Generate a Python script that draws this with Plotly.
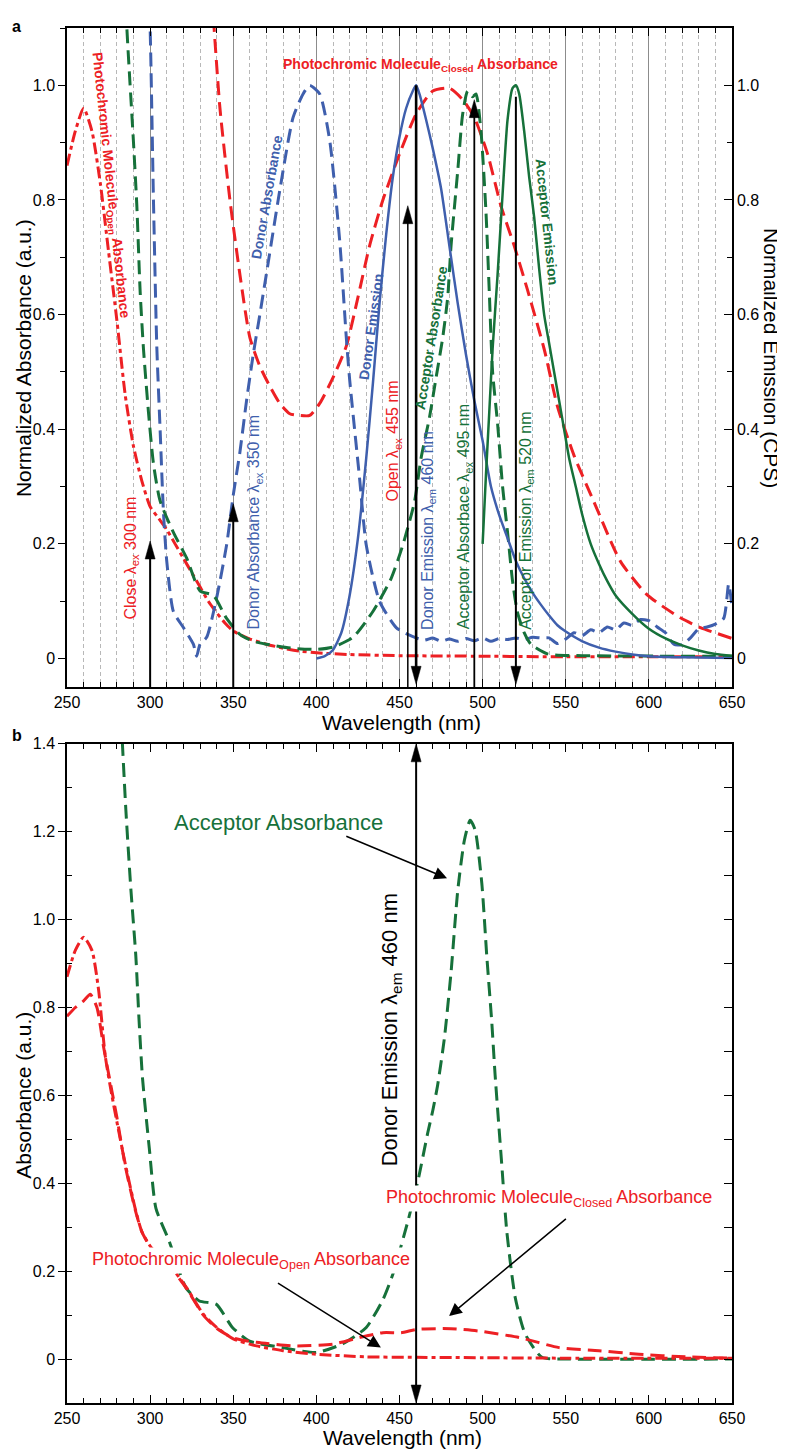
import plotly.graph_objects as go

# ---------------- Panel a data (normalized) ----------------
open_a_wl = [250, 255, 260, 265, 270, 275, 280, 285, 290, 295, 300, 305, 310, 315, 320, 325, 330, 335,
             340, 345, 350, 360, 370, 380, 390, 400, 420, 450, 500, 550, 600, 650]
open_a = [0.86, 0.92, 0.96, 0.92, 0.83, 0.71, 0.59, 0.46, 0.37, 0.31, 0.265, 0.245, 0.225, 0.20, 0.175,
          0.15, 0.125, 0.10, 0.08, 0.062, 0.048, 0.034, 0.025, 0.018, 0.013, 0.010, 0.007, 0.005, 0.004,
          0.003, 0.003, 0.003]

closed_a_wl = [334, 338, 342, 348, 354, 360, 366, 372, 378, 384, 390, 396, 402, 410, 418, 425, 432, 440,
               450, 460, 470, 480, 488, 495, 503, 511, 519, 527, 537, 545, 555, 567, 583, 599, 619, 631, 650]
closed_a = [1.3, 1.12, 0.96, 0.80, 0.67, 0.56, 0.51, 0.475, 0.445, 0.427, 0.424, 0.424, 0.445, 0.49, 0.545,
            0.63, 0.72, 0.80, 0.88, 0.95, 0.99, 0.995, 0.975, 0.944, 0.88, 0.79, 0.72, 0.643, 0.54, 0.44,
            0.354, 0.273, 0.169, 0.111, 0.071, 0.054, 0.035]

donor_abs_wl = [297, 300, 302, 304, 306, 308, 310, 314, 320, 326, 328, 330, 334, 340, 346, 350, 354, 358,
                362, 366, 370, 378, 386, 392, 396, 402, 408, 414, 418, 420, 426, 430, 438, 448, 455,
                460, 465, 470, 475, 480, 485, 490, 495, 500, 505, 510, 515, 520, 525, 530, 535, 540, 545,
                550, 555, 560, 565, 570, 575, 580, 585, 590, 595, 600, 605, 610, 615, 620, 625, 630, 635,
                640, 645, 648, 650]
donor_abs = [1.35, 1.1, 0.8, 0.545, 0.40, 0.256, 0.17, 0.082, 0.054, 0.025, 0.004, 0.025, 0.037, 0.106,
             0.198, 0.285, 0.36, 0.45, 0.53, 0.60, 0.672, 0.817, 0.944, 0.985, 1.0, 0.985, 0.904, 0.73,
             0.56, 0.487, 0.314, 0.198, 0.10, 0.054, 0.042,
             0.036, 0.032, 0.036, 0.030, 0.034, 0.030, 0.035, 0.031, 0.036, 0.030, 0.035, 0.033, 0.036,
             0.033, 0.037, 0.036, 0.036, 0.026, 0.034, 0.045, 0.040, 0.050, 0.045, 0.055, 0.050, 0.062,
             0.058, 0.068, 0.066, 0.055, 0.045, 0.025, 0.024, 0.036, 0.052, 0.055, 0.060, 0.070, 0.13, 0.09]

donor_em_wl = [400, 405, 410, 415, 420, 425, 430, 434, 438, 442, 446, 450, 454, 458, 460, 462, 466, 470,
               475, 480, 485, 490, 495, 500, 505, 510, 515, 520, 525, 530, 535, 540, 545, 550, 560, 570,
               580, 590, 600, 620, 650]
donor_em = [0.0, 0.004, 0.015, 0.045, 0.11, 0.21, 0.35, 0.48, 0.62, 0.74, 0.84, 0.91, 0.96, 0.99, 1.0,
            0.985, 0.94, 0.89, 0.82, 0.72, 0.62, 0.53, 0.45, 0.38, 0.30, 0.25, 0.21, 0.17, 0.14, 0.115,
            0.094, 0.075, 0.058, 0.047, 0.030, 0.019, 0.012, 0.007, 0.004, 0.002, 0.001]

acc_abs_wl = [280, 286, 290, 292, 294, 296, 299, 302, 306, 314, 322, 330, 338, 346, 354, 362, 370, 385,
              400, 410, 422, 434, 445, 452, 459, 463, 468, 472, 476, 479, 481, 485, 488, 491, 494, 496,
              499, 502, 504, 506, 509, 512, 515, 518, 521, 525, 529, 539, 560, 650]
acc_abs = [1.5, 1.1, 0.90, 0.79, 0.64, 0.54, 0.43, 0.34, 0.275, 0.22, 0.175, 0.118, 0.11, 0.07, 0.042,
           0.03, 0.025, 0.018, 0.016, 0.02, 0.037, 0.082, 0.14, 0.198, 0.273, 0.35, 0.42, 0.49, 0.56,
           0.63, 0.72, 0.85, 0.95, 0.99, 0.98, 0.985, 0.92, 0.78, 0.64, 0.50, 0.41, 0.30, 0.22, 0.135,
           0.08, 0.045, 0.025, 0.008, 0.005, 0.004]

acc_em_wl = [500, 502, 504, 506, 509, 512, 515, 518, 520, 522, 525, 528, 531, 534, 537, 540, 543, 546,
             549, 552, 556, 560, 565, 570, 575, 580, 590, 600, 610, 620, 630, 640, 650]
acc_em = [0.20, 0.32, 0.43, 0.54, 0.67, 0.81, 0.94, 0.995, 1.0, 0.985, 0.92, 0.84, 0.77, 0.68, 0.60,
          0.55, 0.50, 0.45, 0.40, 0.35, 0.30, 0.25, 0.20, 0.165, 0.135, 0.11, 0.078, 0.052, 0.035, 0.023,
          0.014, 0.008, 0.005]

# excitation / emission markers in panel a
up_arrow_wl = [300, 350, 455, 495]
up_arrow_tip = [0.205, 0.27, 0.79, 0.975]
up_arrow_w = [2.0, 2.0, 1.5, 1.8]
down_arrow_wl = [460, 520]
down_arrow_top = [1.0, 0.98]
down_arrow_w = [2.6, 2.0]

# ---------------- Panel b data (absorbance) ----------------
acc_b_wl = [282, 285.4, 288.4, 291.4, 293.4, 295.4, 299.5, 303.5, 311.5, 321.6, 329.6, 339.7, 349.5,
            359.8, 379.7, 400, 416, 430, 440, 446, 455, 461, 467, 470, 473, 477, 481, 485, 489, 492.5,
            495.5, 499.5, 502.5, 505.5, 507.5, 511.5, 514.5, 519.6, 525.6, 535.7, 551.6, 650]
acc_b = [1.5, 1.25, 1.07, 0.917, 0.767, 0.64, 0.48, 0.343, 0.268, 0.162, 0.132, 0.125, 0.072, 0.041,
         0.026, 0.015, 0.035, 0.072, 0.135, 0.193, 0.313, 0.404, 0.515, 0.565, 0.625, 0.73, 0.88, 1.065,
         1.18, 1.226, 1.204, 1.083, 0.917, 0.767, 0.647, 0.443, 0.292, 0.14, 0.057, 0.004, 0.0, 0.0]

open_b_wl = [250, 255, 260, 265, 269, 273, 277, 280, 285, 291, 295, 301, 310, 322, 332, 340, 350, 364,
             380, 400, 430, 460, 500, 550, 650]
open_b = [0.87, 0.93, 0.96, 0.93, 0.84, 0.69, 0.60, 0.54, 0.445, 0.343, 0.29, 0.252, 0.222, 0.162,
          0.102, 0.072, 0.046, 0.03, 0.019, 0.011, 0.005, 0.004, 0.003, 0.002, 0.002]

closed_b_wl = [250, 255, 260, 264, 268, 272, 277, 280, 285, 291, 295, 301, 310, 322, 332, 340, 350, 364,
               386, 410, 426, 440, 451, 461, 481, 497, 522, 546, 570, 594, 622, 650]
closed_b = [0.78, 0.80, 0.815, 0.83, 0.80, 0.71, 0.61, 0.55, 0.44, 0.34, 0.29, 0.25, 0.22, 0.16, 0.10,
            0.07, 0.048, 0.038, 0.03, 0.034, 0.049, 0.06, 0.06, 0.068, 0.069, 0.064, 0.049, 0.026, 0.019,
            0.011, 0.005, 0.002]

b_arrow_wl = 460
b_arrow_range = [-0.1, 1.4]

x_ticks = [250, 300, 350, 400, 450, 500, 550, 600, 650]
ya_ticks = [0, 0.2, 0.4, 0.6, 0.8, 1.0]
ya_text = ["0", "0.2", "0.4", "0.6", "0.8", "1.0"]
yb_ticks = [0, 0.2, 0.4, 0.6, 0.8, 1.0, 1.2, 1.4]
yb_text = ["0", "0.2", "0.4", "0.6", "0.8", "1.0", "1.2", "1.4"]

RED = "#ED2024"
BLUE = "#3F5FAD"
GREEN = "#16713A"
FONT = "Liberation Sans, Arial, Helvetica, sans-serif"
DASH = "14px,7px"
DASHDOT = "12px,4px,4px,4px"

fig = go.Figure()


def line(x, y, color, dash, width, xa="x", ya="y"):
    fig.add_trace(go.Scatter(x=x, y=y, mode="lines", xaxis=xa, yaxis=ya, showlegend=False,
                             hoverinfo="skip",
                             line=dict(color=color, dash=dash, width=width, shape="spline", smoothing=0.6)))


# panel a
line(open_a_wl, open_a, RED, DASHDOT, 3)
line(closed_a_wl, closed_a, RED, DASH, 3)
line(donor_abs_wl, donor_abs, BLUE, DASH, 3)
line(acc_abs_wl, acc_abs, GREEN, DASH, 3)
line(donor_em_wl, donor_em, BLUE, "solid", 2.5, ya="y2")
line(acc_em_wl, acc_em, GREEN, "solid", 2.5, ya="y2")
# panel b
line(acc_b_wl, acc_b, GREEN, DASH, 3, xa="x2", ya="y3")
line(closed_b_wl, closed_b, RED, DASH, 3, xa="x2", ya="y3")
line(open_b_wl, open_b, RED, DASHDOT, 3, xa="x2", ya="y3")

shapes = []
HEAD_L, HEAD_W = 18, 5


def vline_arrow(xref, yref, xv, y_from, y_to, width, heads):
    shapes.append(dict(type="line", xref=xref, yref=yref, x0=xv, x1=xv, y0=y_from, y1=y_to,
                       line=dict(color="black", width=width), layer="above"))
    for yv, direction in heads:
        # direction +1: pointing up, -1: pointing down ; pixel y positive = up
        d = -direction * HEAD_L
        shapes.append(dict(type="path", xref=xref, yref=yref, xsizemode="pixel", ysizemode="pixel",
                           xanchor=xv, yanchor=yv,
                           path=f"M0,0 L{-HEAD_W},{d} L{HEAD_W},{d} Z",
                           fillcolor="black", line=dict(color="black", width=0.5), layer="above"))


for wl, tip, w in zip(up_arrow_wl, up_arrow_tip, up_arrow_w):
    vline_arrow("x", "y", wl, -0.05, tip - 0.01, w, [(tip, 1)])
for wl, top, w in zip(down_arrow_wl, down_arrow_top, down_arrow_w):
    vline_arrow("x", "y", wl, top, -0.035, w, [(-0.045, -1)])
vline_arrow("x2", "y3", b_arrow_wl, b_arrow_range[0] + 0.02, b_arrow_range[1] - 0.02, 2.0,
            [(b_arrow_range[1], 1), (b_arrow_range[0], -1)])

annotations = []


def label(text, x, y, size, color, angle=0, xref="x", yref="y", bg=None):
    d = dict(text=text, x=x, y=y, xref=xref, yref=yref, showarrow=False, textangle=angle,
             xanchor="center", yanchor="middle", font=dict(family=FONT, size=size, color=color))
    if bg:
        d["bgcolor"] = bg
        d["borderpad"] = 1
    annotations.append(d)


# panel a curve labels (bold)
label("<b>Photochromic Molecule<sub>Open</sub> Absorbance</b>", 276.1, 0.826, 14, RED, 84)
label("<b>Photochromic Molecule<sub>Closed</sub> Absorbance</b>", 462.5, 1.036, 14, RED)
label("<b>Donor Absorbance</b>", 370.2, 0.805, 14, BLUE, -80)
label("<b>Donor Emission</b>", 433.0, 0.578, 14, BLUE, -82)
label("<b>Acceptor Absorbance</b>", 469.1, 0.559, 14, GREEN, -81)
label("<b>Acceptor Emission</b>", 538.9, 0.762, 14, GREEN, 84)
# panel a wavelength labels
label("Close λ<sub>ex</sub> 300 nm", 288.7, 0.175, 16, RED, -90)
label("Donor Absorbance λ<sub>ex</sub> 350 nm", 362.7, 0.238, 16, BLUE, -90)
label("Open λ<sub>ex</sub> 455 nm", 446.6, 0.380, 16, RED, -90)
label("Donor Emission λ<sub>em</sub> 460 nm", 467.0, 0.224, 16, BLUE, -90)
label("Acceptor Absorbace λ<sub>ex</sub> 495 nm", 489.6, 0.247, 16, GREEN, -90)
label("Acceptor Emission λ<sub>em</sub> 520 nm", 526.6, 0.240, 16, GREEN, -90)

# panel b labels
label("Acceptor Absorbance", 377.3, 1.222, 22, GREEN, 0, "x2", "y3")
label("Photochromic Molecule<sub>Closed</sub> Absorbance", 540.1, 0.365, 18, RED, 0, "x2", "y3", "white")
label("Photochromic Molecule<sub>Open</sub> Absorbance", 360.4, 0.2246, 18, RED, 0, "x2", "y3", "white")
label("Donor Emission λ<sub>em</sub> 460 nm", 445.4, 0.750, 22, "black", -90, "x2", "y3")


def arrow(x_head, y_head, x_tail, y_tail):
    annotations.append(dict(text="", x=x_head, y=y_head, ax=x_tail, ay=y_tail, xref="x2", yref="y3",
                            axref="x2", ayref="y3", showarrow=True, arrowhead=2, arrowsize=1.7,
                            arrowwidth=1.5, arrowcolor="black"))


arrow(478.6, 1.094, 417.1, 1.191)
arrow(479.8, 0.098, 551.0, 0.322)
arrow(438.8, 0.026, 376.0, 0.175)

# panel letters and axis titles (paper coords)
label("<b>a</b>", -0.0752, 1.0014, 16, "black", 0, "paper", "paper")
label("<b>b</b>", -0.0752, 0.4852, 16, "black", 0, "paper", "paper")
label("Normalized Absorbance (a.u.)", -0.0662, 0.7599, 21, "black", -90, "paper", "paper")
label("Normailzed Emission (CPS)", 1.0602, 0.7599, 21, "black", 90, "paper", "paper")
label("Wavelength (nm)", 0.503, 0.4950, 21, "black", 0, "paper", "paper")
label("Absorbance (a.u.)", -0.0647, 0.2242, 21, "black", -90, "paper", "paper")
label("Wavelength (nm)", 0.504, -0.0253, 21, "black", 0, "paper", "paper")

TICKFONT = dict(family=FONT, size=16, color="black")
AXLINE = dict(showline=True, linecolor="black", linewidth=1.5, zeroline=False)

xa_common = dict(range=[250, 650], tickvals=x_ticks, ticks="inside", ticklen=8, tickwidth=1.3,
                 tickcolor="black", mirror="ticks", tickfont=TICKFONT, **AXLINE)

fig.update_layout(
    width=777, height=1442,
    margin=dict(l=59, r=53, t=12, b=47),
    paper_bgcolor="white", plot_bgcolor="white",
    font=dict(family=FONT, size=16, color="black"),
    showlegend=False,
    xaxis=dict(domain=[0, 1], anchor="y", showgrid=True, gridcolor="#8c8c8c", gridwidth=1.2,
               minor=dict(dtick=10, tick0=250, ticks="inside", ticklen=5, tickwidth=1.2, tickcolor="black",
                          showgrid=True, gridcolor="#b8b8b8", gridwidth=1, griddash="4px,3px"),
               **xa_common),
    yaxis=dict(domain=[0.5206, 1], anchor="x", range=[-0.05, 1.1], tickvals=ya_ticks, ticktext=ya_text,
               ticks="outside", ticklen=7, tickwidth=1.3, tickcolor="black", showgrid=False,
               minor=dict(dtick=0.1, tick0=0, ticks="outside", ticklen=5, tickwidth=1.2, tickcolor="black"),
               tickfont=TICKFONT, **AXLINE),
    yaxis2=dict(overlaying="y", anchor="x", side="right", range=[-0.05, 1.1], tickvals=ya_ticks,
                ticktext=ya_text, ticks="inside", ticklen=8, tickwidth=1.3, tickcolor="black",
                showgrid=False,
                minor=dict(dtick=0.1, tick0=0, ticks="inside", ticklen=5, tickwidth=1.2, tickcolor="black"),
                tickfont=TICKFONT, **AXLINE),
    xaxis2=dict(domain=[0, 1], anchor="y3", showgrid=False,
                minor=dict(dtick=10, tick0=250, ticks="inside", ticklen=5, tickwidth=1.2, tickcolor="black"),
                **xa_common),
    yaxis3=dict(domain=[0, 0.4794], anchor="x2", range=[-0.1, 1.4], tickvals=yb_ticks, ticktext=yb_text,
                ticks="outside", ticklen=7, tickwidth=1.3, tickcolor="black", showgrid=False,
                minor=dict(dtick=0.1, tick0=0, ticks="inside", ticklen=5, tickwidth=1.2, tickcolor="black"),
                tickfont=TICKFONT, **AXLINE),
    yaxis4=dict(overlaying="y3", anchor="x2", side="right", range=[-0.1, 1.4], dtick=0.1, tick0=0,
                ticks="inside", ticklen=8, tickwidth=1.3, tickcolor="black", showticklabels=False,
                showgrid=False, **AXLINE),
    shapes=shapes,
    annotations=annotations,
)

# dummy trace so the right-hand axis of panel b is drawn
fig.add_trace(go.Scatter(x=[None], y=[None], xaxis="x2", yaxis="y4", showlegend=False, hoverinfo="skip"))

fig.write_html("out.html")
